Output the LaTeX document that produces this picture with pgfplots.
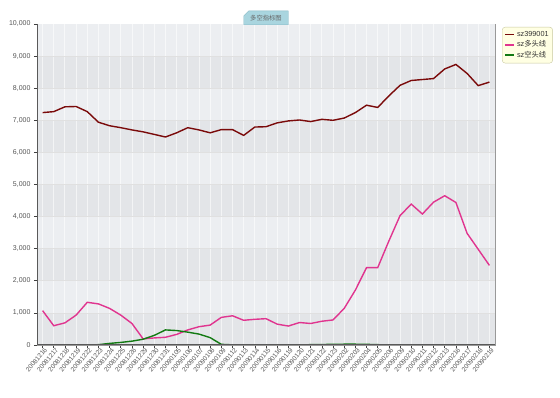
\documentclass[border=0pt]{standalone}
\usepackage{pgfplots}
\pgfplotsset{compat=1.18}
\usepackage{pgfplotstable}
\usepackage{fontspec}
\setmainfont{Liberation Sans}
\newfontfamily\cjk{Noto Sans CJK SC}
\usetikzlibrary{shapes.misc}
\definecolor{cred}{HTML}{7A0A0A}
\definecolor{cpink}{HTML}{E0358F}
\definecolor{cgreen}{HTML}{137A13}
\definecolor{bandA}{HTML}{ECEEF1}
\definecolor{bandB}{HTML}{E3E5E8}
\definecolor{tabfill}{HTML}{A9D5DF}
\definecolor{tabdraw}{HTML}{86B7C4}
\definecolor{legfill}{HTML}{FFFFE3}
\definecolor{legdraw}{HTML}{C8C8A0}
\definecolor{labgray}{HTML}{555555}

\pgfplotstableread{
x v
0 7240
1 7270
2 7420
3 7430
4 7270
5 6940
6 6830
7 6770
8 6700
9 6640
10 6560
11 6480
12 6610
13 6770
14 6700
15 6610
16 6710
17 6710
18 6530
19 6790
20 6800
21 6920
22 6980
23 7010
24 6960
25 7030
26 7000
27 7070
28 7240
29 7470
30 7400
31 7760
32 8090
33 8240
34 8270
35 8300
36 8600
37 8740
38 8460
39 8080
40 8190
}\sza

\pgfplotstableread{
x v
0 1070
1 600
2 690
3 930
4 1330
5 1280
6 1140
7 930
8 670
9 190
10 220
11 240
12 330
13 470
14 570
15 620
16 860
17 910
18 770
19 800
20 820
21 650
22 590
23 700
24 670
25 740
26 780
27 1140
28 1710
29 2410
30 2410
31 3240
32 4030
33 4390
34 4080
35 4450
36 4650
37 4440
38 3480
39 2980
40 2480
}\szb

\pgfplotstableread{
x v
0 0
1 0
2 0
3 0
4 0
5 10
6 50
7 80
8 120
9 180
10 300
11 470
12 450
13 400
14 340
15 230
16 20
17 5
18 5
19 5
20 5
21 5
22 5
23 5
24 10
25 15
26 20
27 25
28 25
29 20
30 10
31 0
32 0
33 0
34 0
35 0
36 0
37 0
38 0
39 0
40 0
}\szc

\begin{document}
\begin{tikzpicture}
\path[use as bounding box] (0,0) rectangle (560pt,398pt);
\begin{axis}[
  at={(37pt,53pt)}, anchor=south west,
  scale only axis, width=458pt, height=321pt,
  xmin=-0.5, xmax=40.5, ymin=0, ymax=10000,
  xtick={0,...,40},
  xticklabels={20081216,20081217,20081218,20081219,20081222,20081223,20081224,20081225,20081226,20081229,20081230,20081231,20090105,20090106,20090107,20090108,20090109,20090112,20090113,20090114,20090115,20090116,20090119,20090120,20090121,20090122,20090123,20090202,20090203,20090204,20090205,20090206,20090209,20090210,20090211,20090212,20090213,20090216,20090217,20090218,20090219},
  x tick label style={rotate=50, anchor=north east, font=\fontsize{6.5}{7}\selectfont, text=labgray, inner sep=0.5pt, xshift=2pt},
  ytick={0,1000,...,10000},
  scaled y ticks=false,
  /pgf/number format/.cd, 1000 sep={,}, fixed, assume math mode=true,
  /pgfplots/.cd,
  y tick label style={font=\fontsize{7}{8}\selectfont, text=labgray},
  xtick pos=left, ytick pos=left,
  tick align=outside, major tick length=3pt,
  tick style={draw=black!75, line width=0.6pt},
  axis line style={draw=black!40, line width=0.8pt},
  title={\cjk 多空指标图},
  title style={at={(0.5,1)}, anchor=south, yshift=-7pt, fill=tabfill, draw=tabdraw,
    chamfered rectangle, chamfered rectangle corners=north west, chamfered rectangle xsep=2.5pt, chamfered rectangle ysep=2.5pt,
    font=\fontsize{6.3}{6.3}\selectfont, text=black!60, inner xsep=4pt, inner ysep=1.5pt},
  legend style={at={(1,1)}, anchor=north west, xshift=7pt, yshift=-3pt,
    fill=legfill, draw=legdraw, rounded corners=3pt,
    font=\fontsize{7.3}{9}\selectfont, text=black!80, inner sep=2pt, row sep=-1pt},
  legend cell align=left,
  legend image code/.code={\draw[#1, line width=1.8pt] (0pt,0pt) -- (9pt,0pt);},
]
\pgfplotsinvokeforeach{0,2,4,6,8}{
  \fill[bandB] (axis cs:-0.5,#1*1000) rectangle (axis cs:40.5,#1*1000+1000);
}
\pgfplotsinvokeforeach{1,3,5,7,9}{
  \fill[bandA] (axis cs:-0.5,#1*1000) rectangle (axis cs:40.5,#1*1000+1000);
}
\pgfplotsinvokeforeach{0,...,40}{
  \draw[white, opacity=0.6, line width=0.9pt] (axis cs:#1,0) -- (axis cs:#1,10000);
}
\pgfplotsinvokeforeach{1,...,9}{
  \draw[black!12, line width=0.7pt] (axis cs:-0.5,#1*1000) -- (axis cs:40.5,#1*1000);
}
\addplot[cred, line width=1.4pt, mark=none] table[x=x, y=v] {\sza};
\addlegendentry{sz399001}
\addplot[cpink, line width=1.4pt, mark=none] table[x=x, y=v] {\szb};
\addlegendentry{sz\cjk 多头线}
\addplot[cgreen, line width=1.4pt, mark=none] table[x=x, y=v] {\szc};
\addlegendentry{sz\cjk 空头线}
\draw[black!65, line width=1.3pt] (rel axis cs:0,1) -- (rel axis cs:0,0) -- (rel axis cs:1,0);
\end{axis}
\end{tikzpicture}
\end{document}
